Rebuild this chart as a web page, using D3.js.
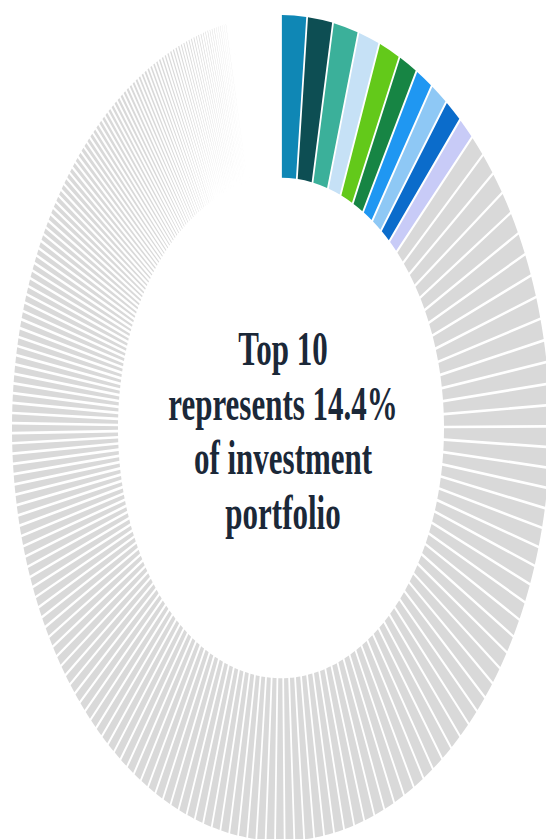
<!DOCTYPE html>
<html>
<head>
<meta charset="utf-8">
<script src="https://cdn.jsdelivr.net/npm/d3@7"></script>
<style>
  body { margin: 0; background: #fff; }
  svg { display: block; }
  .center-label {
    font-family: "Liberation Serif", "DejaVu Serif", serif;
    font-weight: bold;
    fill: #1b2838;
  }
</style>
</head>
<body>
<svg id="chart"></svg>
<script>
// weights in % of the investment portfolio
const top10Weights = [1.8, 1.8, 1.8, 1.5, 1.5, 1.3, 1.2, 1.2, 1.2, 1.1];
const top10Colors = [
  "#0f87b5", "#0d4e53", "#3bb09a", "#c6e1f6", "#63c91a",
  "#178544", "#1f97f2", "#8ec8f5", "#0b6ccb", "#c8cbf7"
];
const otherWeights = [
  1.05, 1.04, 1.03, 1.02, 1.01, 1.00, 0.99, 0.98, 0.97, 0.95, 0.94, 0.93, 0.91, 0.90, 0.88,
  0.87, 0.86, 0.86, 0.85, 0.84, 0.83, 0.83, 0.82, 0.81, 0.80,
  0.79, 0.79, 0.78, 0.77, 0.76, 0.75, 0.75, 0.74, 0.73, 0.72,
  0.71, 0.71, 0.70, 0.69, 0.68, 0.67, 0.67, 0.66, 0.65, 0.64,
  0.63, 0.62, 0.62, 0.61, 0.60, 0.59, 0.58, 0.57,
  0.56, 0.56, 0.55, 0.55, 0.54, 0.54, 0.53, 0.53, 0.52, 0.52,
  0.51, 0.51, 0.50, 0.50, 0.49, 0.49, 0.48, 0.48, 0.47, 0.47,
  0.46, 0.46, 0.46, 0.45, 0.45, 0.45, 0.44, 0.44, 0.44, 0.43,
  0.43, 0.43, 0.42, 0.42, 0.42, 0.41, 0.41, 0.41, 0.40, 0.40,
  0.40, 0.40, 0.39, 0.39, 0.39, 0.39, 0.38, 0.38, 0.38, 0.38,
  0.37, 0.37, 0.37, 0.37, 0.36,
  0.35, 0.35, 0.34, 0.34, 0.33, 0.33, 0.32, 0.32, 0.31, 0.31,
  0.30, 0.30, 0.29, 0.29, 0.28, 0.28, 0.27, 0.27, 0.26, 0.26,
  0.25, 0.25,
  0.24, 0.24, 0.24, 0.23, 0.23, 0.23, 0.22, 0.22, 0.22, 0.21,
  0.21, 0.21, 0.20, 0.20, 0.20, 0.19, 0.19, 0.19, 0.18, 0.18,
  0.18, 0.17, 0.17, 0.17,
  0.16, 0.16, 0.16, 0.15, 0.15, 0.15, 0.14, 0.14, 0.14, 0.13,
  0.13, 0.13, 0.12, 0.12, 0.12, 0.11, 0.11, 0.11, 0.10, 0.10,
  0.10, 0.09, 0.09, 0.09, 0.08,
  0.08, 0.08, 0.07, 0.07, 0.07, 0.06, 0.06, 0.06, 0.05, 0.05,
  0.05, 0.04, 0.04, 0.04, 0.03, 0.03, 0.03, 0.02, 0.02, 0.02,
  0.01, 0.01,
  0.01, 0.01, 0.01, 0.01, 0.01, 0.01, 0.01, 0.01, 0.01, 0.01,
  0.01, 0.01, 0.01, 0.01, 0.01, 0.01, 0.01, 0.01, 0.01, 0.01,
  0.01, 0.01, 0.01, 0.01, 0.01, 0.01, 0.01, 0.01
];
const otherColor = "#d9d9d9";
const centerLines = ["Top 10", "represents 14.4%", "of investment", "portfolio"];

const w = 546;
const h = 839;
const cx = 281;
const cy = 428;
const sy = 1.535; // picture is stretched vertically
const outerR = 269;
const innerR = 163;

const svg = d3.select("#chart").attr("width", w).attr("height", h);

const g = svg
  .append("g")
  .attr("transform", `translate(${cx},${cy}) scale(1,${sy})`);

const data = top10Weights
  .map((v, i) => ({ value: v, color: top10Colors[i] }))
  .concat(otherWeights.map((v) => ({ value: v, color: otherColor })));

const pie = d3
  .pie()
  .value((d) => d.value)
  .sort(null)
  .padAngle(0.0056);

const arc = d3.arc().innerRadius(innerR).outerRadius(outerR);

g.selectAll("path")
  .data(pie(data))
  .enter()
  .append("path")
  .attr("d", arc)
  .attr("fill", (d) => d.data.color);

g.selectAll("text")
  .data(centerLines)
  .enter()
  .append("text")
  .attr("class", "center-label")
  .attr("text-anchor", "middle")
  .attr("x", 2)
  .attr("y", (d, i) => -41 + i * 35.5)
  .attr("font-size", 31)
  .text((d) => d);
</script>
</body>
</html>
